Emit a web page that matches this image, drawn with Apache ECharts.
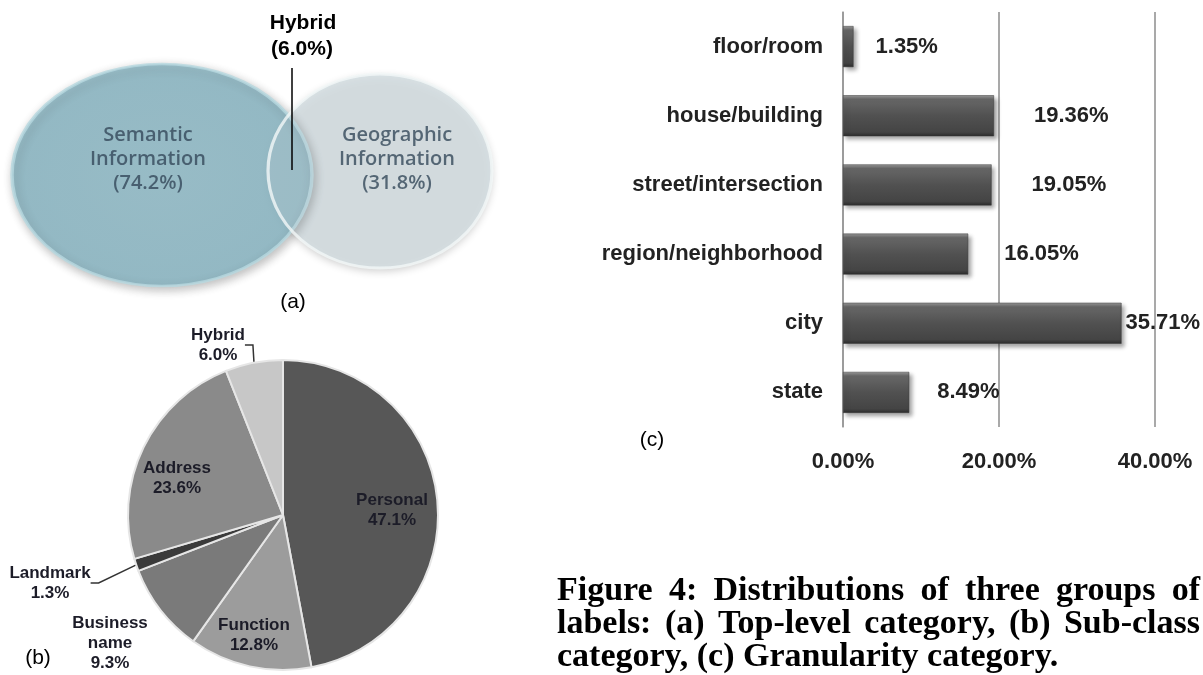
<!DOCTYPE html>
<html><head><meta charset="utf-8">
<script src="https://cdn.jsdelivr.net/npm/echarts@6/dist/echarts.min.js"></script>
<style>html,body{margin:0;padding:0;background:#fff}#c{width:1203px;height:675px}</style>
</head><body><div id="c"></div>
<script>
// ---------- data ----------
// (a) top-level category (Venn)
const vennNames = ['Semantic\nInformation', 'Geographic\nInformation'];
const vennValues = [74.2, 31.8];
const hybridName = 'Hybrid';
const hybridValue = 6.0;
// (b) sub-class category (pie)
const pieNames = ['Personal', 'Function', 'Business\nname', 'Landmark', 'Address', 'Hybrid'];
const pieValues = [47.1, 12.8, 9.3, 1.3, 23.6, 6.0];
// (c) granularity category (bars)
const barCategories = ['floor/room', 'house/building', 'street/intersection', 'region/neighborhood', 'city', 'state'];
const barValues = [1.35, 19.36, 19.05, 16.05, 35.71, 8.49];
const barTicks = [0, 20, 40];
// caption
const captionLines = [
  'Figure 4: Distributions of three groups of',
  'labels: (a) Top-level category, (b) Sub-class',
  'category, (c) Granularity category.'
];
const panelLabels = ['(a)', '(b)', '(c)'];

// ---------- styles ----------
const sans = '"Liberation Sans", Arial, sans-serif';
const pieColors = ['#575757', '#9c9c9c', '#7a7a7a', '#3a3a3a', '#8a8a8a', '#c7c7c7'];
const pieLabelPos = [[392, 510], [254, 635], [110, 643], [50, 583], [177, 478], [218, 345]];
const pieOutside = [false, false, true, true, false, true];
const pieLine = [false, false, false, true, false, true];
const barLabelGap = [22, 40, 40, 36, 4, 28];

const graphics = [];
// Hybrid annotation for the Venn overlap
graphics.push({type: 'line', shape: {x1: 292, y1: 68, x2: 292, y2: 170}, style: {stroke: '#000', lineWidth: 1.5}, z: 100});
graphics.push({type: 'text', x: 303, y: 23, z: 100, style: {text: hybridName, font: 'bold 21px ' + sans, fill: '#000', align: 'center', verticalAlign: 'middle', textAlign: 'center', textVerticalAlign: 'middle'}});
graphics.push({type: 'text', x: 302, y: 49, z: 100, style: {text: '(' + hybridValue.toFixed(1) + '%)', font: 'bold 21px ' + sans, fill: '#000', align: 'center', verticalAlign: 'middle', textAlign: 'center', textVerticalAlign: 'middle'}});
// panel labels
const panelPos = [[293, 302], [38, 658], [652, 440]];
panelLabels.forEach((t, i) => graphics.push({type: 'text', x: panelPos[i][0], y: panelPos[i][1], z: 100,
  style: {text: t, font: '21px ' + sans, fill: '#000', align: 'center', verticalAlign: 'middle', textAlign: 'center', textVerticalAlign: 'middle'}}));
// justified caption
const capFont = 'bold 34px "Liberation Serif", "Times New Roman", serif';
const ctx = document.createElement('canvas').getContext('2d');
ctx.font = capFont;
const capLeft = 557, capRight = 1200, capTop = 591, capLineH = 33;
captionLines.forEach((line, li) => {
  const words = line.split(' ');
  const widths = words.map(w => ctx.measureText(w).width);
  const total = widths.reduce((a, b) => a + b, 0);
  const justify = li < captionLines.length - 1;
  const gap = justify ? (capRight - capLeft - total) / (words.length - 1) : ctx.measureText(' ').width;
  let x = capLeft;
  words.forEach((w, i) => {
    graphics.push({type: 'text', x: x, y: capTop + li * capLineH, z: 100,
      style: {text: w, font: capFont, fill: '#000', verticalAlign: 'middle', textVerticalAlign: 'middle'}});
    x += widths[i] + gap;
  });
});

const vennSizes = [[300, 222], [224, 194]];
const semanticFill = new echarts.graphic.RadialGradient(0.5, 0.5, 0.6, [
  {offset: 0, color: '#8dbac7'}, {offset: 0.85, color: '#87b6c4'}, {offset: 1, color: '#9cc5d0'}]);
const vennLabel = (dx, dy) => ({
  show: true, position: 'inside', offset: [dx, dy],
  fontFamily: '"Open Sans", sans-serif', fontSize: 20, fontWeight: 600, color: '#34495a', lineHeight: 24,
  formatter: p => p.name + '\n(' + p.value[2].toFixed(1) + '%)'
});

const option = {
  backgroundColor: '#fff',
  animation: false,
  graphic: {elements: graphics},
  grid: [
    {left: 50, width: 440, top: 124, height: 100},
    {left: 843, right: 48, top: 12, height: 415}
  ],
  xAxis: [
    {type: 'category', gridIndex: 0, data: vennNames, show: false},
    {type: 'value', gridIndex: 1, min: barTicks[0], max: barTicks[barTicks.length - 1], interval: barTicks[1] - barTicks[0],
      axisLine: {show: false}, axisTick: {show: false},
      splitLine: {show: true, lineStyle: {color: '#8c8c8c', width: 1.5}},
      axisLabel: {formatter: v => v.toFixed(2) + '%', fontFamily: sans, fontSize: 22, fontWeight: 'bold', color: '#222', margin: 24}}
  ],
  yAxis: [
    {type: 'category', gridIndex: 0, data: [''], show: false},
    {type: 'category', gridIndex: 1, data: barCategories, inverse: true,
      axisLine: {show: true, lineStyle: {color: '#999', width: 1.5}}, axisTick: {show: false},
      axisLabel: {fontFamily: sans, fontSize: 22, fontWeight: 'bold', color: '#222', margin: 20}}
  ],
  series: [
    {
      type: 'scatter', xAxisIndex: 0, yAxisIndex: 0, z: 1,
      data: [
        {name: vennNames[1], value: [1, 0, vennValues[1]], symbolSize: vennSizes[1], symbolOffset: [0, -3],
          itemStyle: {color: '#d3dde1', shadowBlur: 8, shadowColor: 'rgba(0,0,0,0.25)', shadowOffsetY: 3}},
        {name: vennNames[0], value: [0, 0, vennValues[0]], symbolSize: vennSizes[0], symbolOffset: [2, 1],
          itemStyle: {color: semanticFill, borderColor: '#b6d8e0', borderWidth: 3, shadowBlur: 10, shadowColor: 'rgba(0,0,0,0.3)', shadowOffsetY: 3, shadowOffsetX: 2},
          label: vennLabel(-14, -16)}
      ],
      emphasis: {disabled: true}
    },
    {
      type: 'scatter', xAxisIndex: 0, yAxisIndex: 0, z: 2,
      data: [
        {name: vennNames[1], value: [1, 0, vennValues[1]], symbolSize: vennSizes[1], symbolOffset: [0, -3],
          itemStyle: {color: 'rgba(211,221,225,0.28)', borderColor: '#f3f7f8', borderWidth: 3},
          label: vennLabel(17, -12)}
      ],
      emphasis: {disabled: true}
    },
    {
      type: 'pie', center: [283, 515], radius: 155, startAngle: 90, clockwise: true,
      data: pieNames.map((n, i) => ({
        name: n, value: pieValues[i],
        itemStyle: {color: pieColors[i]},
        label: {position: pieOutside[i] ? 'outside' : 'inside'},
        labelLine: {show: pieLine[i], length: 6, length2: 8, lineStyle: {color: '#333', width: 1.5}}
      })),
      itemStyle: {borderColor: '#e6e6e6', borderWidth: 2},
      label: {show: true, fontFamily: sans, fontSize: 17, fontWeight: 'bold', color: '#1c1c28', lineHeight: 20, align: 'center',
        formatter: p => p.name + '\n' + p.value.toFixed(1) + '%'},
      labelLayout: p => ({x: pieLabelPos[p.dataIndex][0], y: pieLabelPos[p.dataIndex][1], align: 'center', verticalAlign: 'middle'}),
      emphasis: {disabled: true}
    },
    {
      type: 'bar', xAxisIndex: 1, yAxisIndex: 1, barWidth: 41,
      data: barValues.map((v, i) => ({value: v, label: {distance: barLabelGap[i]}})),
      itemStyle: {
        color: new echarts.graphic.LinearGradient(0, 0, 0, 1, [
          {offset: 0, color: '#9a9a9a'}, {offset: 0.1, color: '#676767'}, {offset: 0.5, color: '#515151'},
          {offset: 0.9, color: '#444'}, {offset: 1, color: '#2c2c2c'}]),
        borderColor: '#3a3a3a', borderWidth: 0.5,
        shadowColor: 'rgba(0,0,0,0.35)', shadowBlur: 4, shadowOffsetX: 3, shadowOffsetY: 3
      },
      label: {show: true, position: 'right', fontFamily: sans, fontSize: 22, fontWeight: 'bold', color: '#222',
        formatter: p => p.value.toFixed(2) + '%'},
      emphasis: {disabled: true}
    }
  ]
};
const chart = echarts.init(document.getElementById('c'), null, {renderer: 'canvas'});
chart.setOption(option);
</script>
</body></html>
